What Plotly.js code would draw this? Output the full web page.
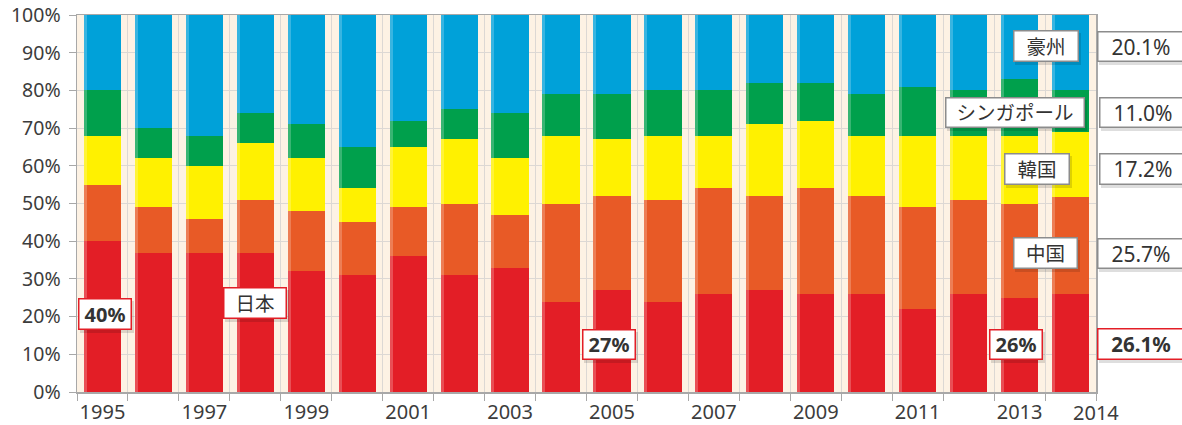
<!DOCTYPE html>
<html>
<head>
<meta charset="utf-8">
<script src="https://cdn.plot.ly/plotly-3.0.1.min.js"></script>
<style>html,body{margin:0;padding:0;background:#fff}#chart{width:1182px;height:425px}</style>
</head>
<body>
<div id="chart"></div>
<script>
const years = ['1995','1996','1997','1998','1999','2000','2001','2002','2003','2004','2005','2006','2007','2008','2009','2010','2011','2012','2013','2014'];
const tickLabels = ['1995','','1997','','1999','','2001','','2003','','2005','','2007','','2009','','2011','','2013',''];
const japan     = [40,37,37,37,32,31,36,31,33,24,27,24,26,27,26,26,22,26,25,26.1];
const china     = [15,12,9,14,16,14,13,19,14,26,25,27,28,25,28,26,27,25,25,25.7];
const korea     = [13,13,14,15,14,9,16,17,15,18,15,17,14,19,18,16,19,17,18,17.2];
const singapore = [12,8,8,8,9,11,7,8,12,11,12,12,12,11,10,11,13,12,15,11.0];
const australia = [20,30,32,26,29,35,28,25,26,21,21,20,20,18,18,21,19,20,17,20.1];
const seriesNames = ['日本','中国','韓国','シンガポール','豪州'];
const colors = ['#e31e26','#e85a26','#fff100','#00a04c','#00a1d9'];

const seriesData = [japan, china, korea, singapore, australia];
const traces = seriesData.map((d, i) => ({
  type: 'bar', x: years, y: d, name: seriesNames[i],
  marker: {color: colors[i], line: {width: 0}},
  hoverinfo: 'skip'
}));

// glossy edge highlights drawn over each full stacked bar (totals of the series)
const totals = years.map((_, k) => seriesData.reduce((s, d) => s + d[k], 0));
const BW = 0.73, PXU = 1 / 51;
const sheens = [
  {offset: -BW / 2, width: 3 * PXU, color: 'rgba(255,255,255,0.22)'},
  {offset: -BW / 2 + 3 * PXU, width: 4 * PXU, color: 'rgba(255,255,255,0.10)'},
  {offset: BW / 2 - 2 * PXU, width: 1.5 * PXU, color: 'rgba(255,255,255,0.18)'}
];
sheens.forEach(s => traces.push({
  type: 'bar', x: years, y: totals, xaxis: 'x2', yaxis: 'y2',
  offset: s.offset, width: s.width, marker: {color: s.color, line: {width: 0}},
  hoverinfo: 'skip', showlegend: false
}));

const font = 'Noto Sans, Noto Sans CJK JP, sans-serif';
const L = 77, R = 1096, T = 15, B = 392;
const px = x => (x - L) / (R - L);
const py = y => (B - y) / (B - T);

function box(text, cx, cy, w, h, red, bold, size) {
  const shadow = {
    xref: 'paper', yref: 'paper', x: px(cx), y: py(cy), xanchor: 'center', yanchor: 'middle',
    text: ' ', showarrow: false, width: w, height: h, borderpad: 0,
    bgcolor: 'rgba(0,0,0,0.13)', borderwidth: 0, xshift: 2, yshift: -3
  };
  const main = {
    xref: 'paper', yref: 'paper', x: px(cx), y: py(cy), xanchor: 'center', yanchor: 'middle',
    text: bold ? '<b>' + text + '</b>' : text, showarrow: false,
    width: w - 3, height: h - 3, borderpad: 0,
    bgcolor: '#ffffff', bordercolor: red ? '#e31e26' : '#8c8c8c', borderwidth: 1.5,
    font: {family: font, size: size, color: '#333333'}
  };
  return [shadow, main];
}

const annotations = [].concat(
  box('40%', 105, 314, 54, 32, true, true, 20),
  box('日本', 255, 303, 64, 32, true, false, 19.5),
  box('27%', 609, 344.5, 54, 31, true, true, 20),
  box('26%', 1016, 344, 54, 31, true, true, 20),
  box('豪州', 1046, 46, 66, 32, false, false, 19.5),
  box('シンガポール', 1015, 112.5, 140, 31, false, false, 19.5),
  box('韓国', 1037, 169, 66, 32, false, false, 19.5),
  box('中国', 1045.5, 253, 65, 32, false, false, 19.5),
  box('20.1%', 1141, 46, 88, 31, false, false, 21),
  box('11.0%', 1143, 112.5, 88, 31, false, false, 21),
  box('17.2%', 1143, 169, 88, 32, false, false, 21),
  box('25.7%', 1141, 253, 88, 31, false, false, 21),
  box('26.1%', 1141, 344, 88, 32, true, true, 20.5)
);
annotations.push({
  xref: 'paper', yref: 'paper', x: px(1096), y: 0, yanchor: 'middle', xanchor: 'center', yshift: -20,
  text: '2014', showarrow: false, font: {family: font, size: 20, color: '#3c3c3c'}
});

const layout = {
  width: 1182, height: 425,
  margin: {l: L, r: 1182 - R, t: T, b: 425 - B, pad: 0},
  paper_bgcolor: '#ffffff', plot_bgcolor: '#fdf2e4',
  barmode: 'stack', bargap: 0.27, showlegend: false,
  font: {family: font, color: '#3c3c3c'},
  xaxis: {
    type: 'category', tickmode: 'array', tickvals: years, ticktext: tickLabels,
    tickson: 'boundaries', ticks: 'outside', ticklen: 7, tickcolor: '#a8a8a8', tickwidth: 1,
    tickangle: 0, automargin: false,
    showgrid: true, gridcolor: '#dcd8d4', gridwidth: 1,
    showline: true, linecolor: '#a8a8a8', linewidth: 1.5, mirror: true,
    ticklabelstandoff: 1,
    tickfont: {family: font, size: 20, color: '#3c3c3c'}, fixedrange: true
  },
  yaxis: {
    range: [0, 100], dtick: 10, ticksuffix: '%',
    ticks: 'outside', ticklen: 7, tickcolor: '#a8a8a8', tickwidth: 1,
    showgrid: true, gridcolor: '#dcd8d4', gridwidth: 1,
    showline: true, linecolor: '#a8a8a8', linewidth: 1.5, mirror: true, zeroline: false,
    ticklabelstandoff: 4, automargin: false,
    tickfont: {family: font, size: 19.5, color: '#3c3c3c'}, fixedrange: true
  },
  xaxis2: {type: 'category', overlaying: 'x', matches: 'x', visible: false, fixedrange: true},
  yaxis2: {overlaying: 'y', range: [0, 100], visible: false, fixedrange: true},
  annotations: annotations
};

Plotly.newPlot('chart', traces, layout, {displayModeBar: false, staticPlot: true});
</script>
</body>
</html>
